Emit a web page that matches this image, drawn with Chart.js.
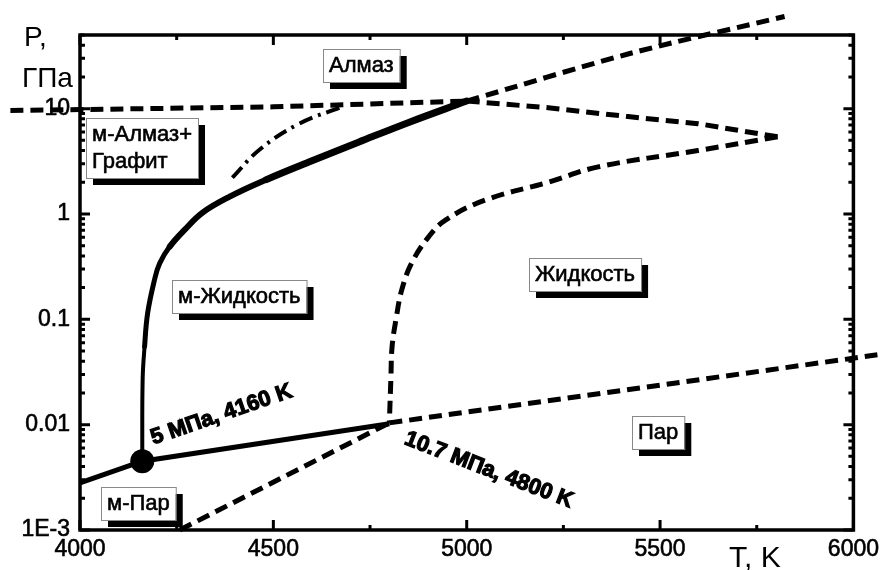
<!DOCTYPE html>
<html>
<head>
<meta charset="utf-8">
<script src="https://cdn.jsdelivr.net/npm/chart.js@4.4.1/dist/chart.umd.min.js"></script>
<style>
  html, body { margin: 0; padding: 0; background: #fff; }
  #wrap { width: 885px; height: 570px; }
</style>
</head>
<body>
<div id="wrap"><canvas id="phase" width="885" height="570"></canvas></div>
<script>
// axis ticks
const xTicks = [4000, 4500, 5000, 5500, 6000];
const yTicks = [0.001, 0.01, 0.1, 1, 10];
const yTickLabels = ['1E-3', '0.01', '0.1', '1', '10'];

// solid line, m-vapour boundary
const lowT = [4000, 4161, 4800];
const lowP = [0.0028, 0.0045, 0.0102];

// solid melting curve from the dot up to the triple point
const meltT = [4161, 4162, 4167, 4175, 4193, 4206, 4232, 4271, 4317, 4387, 4482, 4600, 4720, 4850, 5000];
const meltP = [0.0045, 0.027, 0.055, 0.115, 0.24, 0.34, 0.49, 0.71, 1.03, 1.46, 2.12, 3.2, 4.8, 7.4, 11.8];

// dashed graphite / diamond line near 10 GPa
const graphT = [3820, 4000, 4500, 5000];
const graphP = [9.6, 9.8, 10.4, 11.8];

// dashed diamond / liquid line to the tip
const diaLiqT = [5000, 5211, 5417, 5598, 5804];
const diaLiqP = [11.8, 10.2, 8.4, 7.2, 5.4];

// dashed liquid / vapour curve back from the tip
const binT = [5804, 5598, 5340, 5211, 5049, 4946, 4902, 4858, 4832, 4817, 4807, 4804, 4800];
const binP = [5.4, 4.0, 2.8, 2.0, 1.36, 0.88, 0.61, 0.344, 0.19, 0.099, 0.055, 0.028, 0.0104];

// dashed vapour line to the right
const vapT = [4800, 6062];
const vapP = [0.0104, 0.046];

// dashed metastable line from the bottom
const mvapT = [4258, 4800];
const mvapP = [0.001, 0.0104];

// dashed line leaving the top
const topT = [5000, 5417, 5822];
const topP = [11.8, 33, 75];

// dash-dot line
const ddT = [4394, 4464, 4567, 4678];
const ddP = [2.21, 4.07, 7.2, 10.4];

// point 5 MPa, 4160 K
const dotT = [4161];
const dotP = [0.0045];

// boxed region names
const regionText = ['Алмаз', 'м-Алмаз+\nГрафит', 'м-Жидкость', 'Жидкость', 'Пар', 'м-Пар'];
const regionT = [4727, 4160, 4412, 5307, 5495, 4152];
const regionP = [25.6, 4.26, 0.164, 0.265, 0.0085, 0.00177];

// rotated notes
const noteText = ['5 МПа, 4160 K', '10.7 МПа, 4800 K'];
const noteT = [4366, 5057];
const noteP = [0.0124, 0.0037];
const noteAngle = [-19, 21];

const FONT = '"Liberation Sans", Arial, sans-serif';

function pts(T, P) {
    return T.map((t, i) => ({ x: t, y: P[i] }));
}

function dashed(T, P, extra) {
    return Object.assign({
        data: pts(T, P),
        showLine: true,
        borderColor: '#000',
        borderWidth: 5,
        borderDash: [13, 7],
        pointRadius: 0,
        clip: false
    }, extra || {});
}

// frame + inward ticks on all four sides
const framePlugin = {
    id: 'frame',
    afterDraw(chart) {
        const { ctx, chartArea: a, scales: { x, y } } = chart;
        ctx.save();
        ctx.strokeStyle = '#000';
        ctx.lineCap = 'butt';

        ctx.lineWidth = 3;
        const xMinor = [4250, 4750, 5250, 5750];
        xTicks.forEach(v => {
            const px = x.getPixelForValue(v);
            ctx.beginPath();
            ctx.moveTo(px, a.bottom); ctx.lineTo(px, a.bottom - 10);
            ctx.moveTo(px, a.top); ctx.lineTo(px, a.top + 10);
            ctx.stroke();
        });
        xMinor.forEach(v => {
            const px = x.getPixelForValue(v);
            ctx.beginPath();
            ctx.moveTo(px, a.bottom); ctx.lineTo(px, a.bottom - 5);
            ctx.moveTo(px, a.top); ctx.lineTo(px, a.top + 5);
            ctx.stroke();
        });

        yTicks.forEach(v => {
            const py = y.getPixelForValue(v);
            ctx.beginPath();
            ctx.moveTo(a.left, py); ctx.lineTo(a.left + 10, py);
            ctx.moveTo(a.right, py); ctx.lineTo(a.right - 10, py);
            ctx.stroke();
            for (let m = 2; m <= 9; m++) {
                const mv = v * m;
                if (mv > y.max) break;
                const my = y.getPixelForValue(mv);
                ctx.beginPath();
                ctx.moveTo(a.left, my); ctx.lineTo(a.left + 5, my);
                ctx.moveTo(a.right, my); ctx.lineTo(a.right - 5, my);
                ctx.stroke();
            }
        });

        ctx.lineWidth = 3.5;
        ctx.strokeRect(a.left, a.top, a.right - a.left, a.bottom - a.top);

        // axis titles
        ctx.fillStyle = '#000';
        ctx.textAlign = 'left';
        ctx.textBaseline = 'alphabetic';
        ctx.font = '28px ' + FONT;
        ctx.fillText('P,', 24, 46);
        ctx.fillText('ГПа', 22, 87);
        ctx.font = '30px ' + FONT;
        ctx.fillText('T, K', 729, 567);
        ctx.restore();
    }
};

// boxed labels and rotated notes
const labelPlugin = {
    id: 'labels',
    afterDatasetsDraw(chart) {
        const { ctx, scales: { x, y } } = chart;
        ctx.save();
        ctx.font = '22px ' + FONT;
        ctx.textBaseline = 'middle';
        ctx.textAlign = 'left';
        regionText.forEach((txt, i) => {
            const lines = txt.split('\n');
            const w = Math.max(...lines.map(l => ctx.measureText(l).width)) + 12;
            const h = lines.length * 27 + 6;
            const cx = x.getPixelForValue(regionT[i]);
            const cy = y.getPixelForValue(regionP[i]);
            const left = Math.round(cx - w / 2);
            const top = Math.round(cy - h / 2);
            ctx.fillStyle = '#000';
            ctx.fillRect(left + 7, top + 7, w, h);
            ctx.fillStyle = '#fff';
            ctx.fillRect(left, top, w, h);
            ctx.strokeStyle = '#888';
            ctx.lineWidth = 1;
            ctx.strokeRect(left + 0.5, top + 0.5, w, h);
            ctx.fillStyle = '#000';
            ctx.strokeStyle = '#000';
            ctx.lineWidth = 0.6;
            lines.forEach((l, k) => {
                const ty = top + 3 + 27 * k + 14;
                ctx.fillText(l, left + 6, ty);
                ctx.strokeText(l, left + 6, ty);
            });
        });

        ctx.font = 'bold 22px ' + FONT;
        ctx.textAlign = 'center';
        ctx.fillStyle = '#000';
        ctx.strokeStyle = '#000';
        ctx.lineWidth = 1.2;
        noteText.forEach((txt, i) => {
            ctx.save();
            ctx.translate(x.getPixelForValue(noteT[i]), y.getPixelForValue(noteP[i]));
            ctx.rotate(noteAngle[i] * Math.PI / 180);
            ctx.fillText(txt, 0, 0);
            ctx.strokeText(txt, 0, 0);
            ctx.restore();
        });
        ctx.restore();
    }
};

new Chart(document.getElementById('phase'), {
    type: 'scatter',
    data: {
        datasets: [
            {
                data: pts(lowT, lowP),
                showLine: true,
                borderColor: '#000',
                borderWidth: 5,
                pointRadius: 0,
                clip: false
            },
            {
                data: pts(meltT, meltP),
                showLine: true,
                borderColor: '#000',
                borderCapStyle: 'round',
                tension: 0.4,
                pointRadius: 0,
                clip: false,
                segment: {
                    borderWidth: c => c.p0DataIndex < 2 ? 4 : (c.p0DataIndex < 6 ? 5 : (c.p0DataIndex < 10 ? 6 : 7))
                }
            },
            dashed(graphT, graphP),
            dashed(diaLiqT, diaLiqP),
            dashed(binT, binP, { tension: 0.4 }),
            dashed(vapT, vapP),
            dashed(mvapT, mvapP),
            dashed(topT, topP, { tension: 0.3 }),
            dashed(ddT, ddP, { borderWidth: 4, borderDash: [14, 6, 3, 6], tension: 0.4 }),
            {
                data: pts(dotT, dotP),
                showLine: false,
                pointRadius: 12,
                backgroundColor: '#000',
                borderWidth: 0,
                clip: false
            }
        ]
    },
    options: {
        responsive: false,
        animation: false,
        layout: { padding: { left: 0, top: 35, right: 29, bottom: 0 } },
        plugins: {
            legend: { display: false },
            tooltip: { enabled: false }
        },
        scales: {
            x: {
                type: 'linear',
                min: 4000,
                max: 6000,
                grid: { display: false, drawTicks: false },
                border: { display: false },
                afterBuildTicks: s => { s.ticks = xTicks.map(v => ({ value: v })); },
                afterFit: s => { s.height = 40; },
                ticks: {
                    callback: (v, i) => String(xTicks[i]),
                    color: '#000',
                    textStrokeColor: '#000',
                    textStrokeWidth: 0.6,
                    padding: 6,
                    maxRotation: 0,
                    font: { family: FONT, size: 23 }
                }
            },
            y: {
                type: 'logarithmic',
                min: 0.001,
                max: 50,
                grid: { display: false, drawTicks: false },
                border: { display: false },
                afterBuildTicks: s => { s.ticks = yTicks.map(v => ({ value: v })); },
                afterFit: s => { s.width = 80; },
                ticks: {
                    callback: (v, i) => yTickLabels[i],
                    color: '#000',
                    textStrokeColor: '#000',
                    textStrokeWidth: 0.6,
                    padding: 10,
                    font: { family: FONT, size: 23 }
                }
            }
        }
    },
    plugins: [framePlugin, labelPlugin]
});
</script>
</body>
</html>
